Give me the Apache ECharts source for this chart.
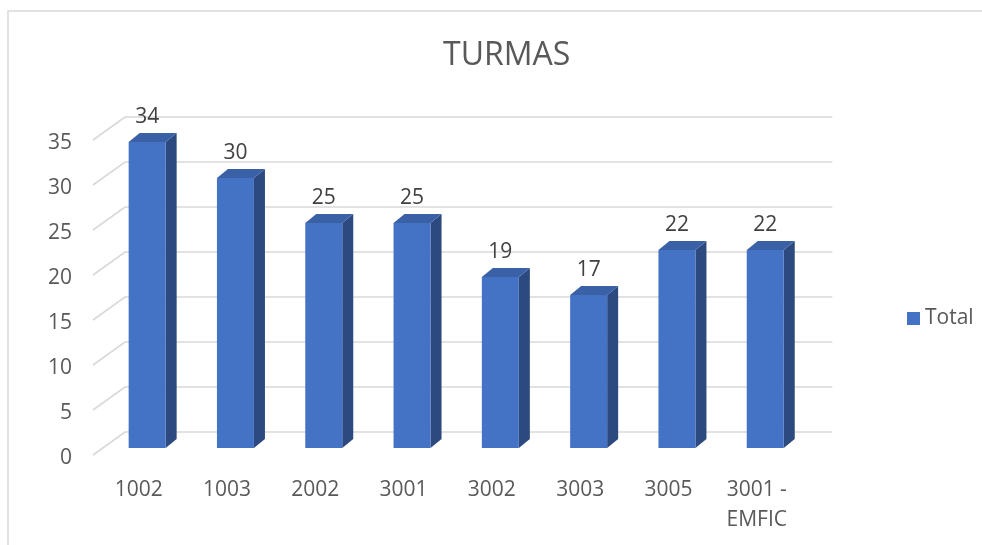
<!DOCTYPE html>
<html>
<head>
<meta charset="utf-8">
<script src="https://cdn.jsdelivr.net/npm/echarts@6/dist/echarts.min.js"></script>
<style>
html,body{margin:0;padding:0;background:#fff;}
#c{width:982px;height:545px;}
</style>
</head>
<body>
<div id="c"></div>
<script>
const categories = ['1002', '1003', '2002', '3001', '3002', '3003', '3005', '3001 - EMFIC'];
const totals = [34, 30, 25, 25, 19, 17, 22, 22];
const yTicks = [0, 5, 10, 15, 20, 25, 30, 35];
const seriesName = 'Total';
const titleText = 'TURMAS';

const FONT = "'Open Sans', 'DejaVu Sans', sans-serif";
const TXT = '#595959';
const GRID_C = '#d9d9d9';
const BAR_W = 37;
const DX = 11, DY = -9;

const chart = echarts.init(document.getElementById('c'), null, {renderer: 'canvas'});

const option = {
  animation: false,
  backgroundColor: '#ffffff',
  textStyle: {fontFamily: FONT},
  graphic: [{
    type: 'rect', z: -10, silent: true,
    shape: {x: 8, y: 11, width: 1200, height: 800},
    style: {fill: 'none', stroke: GRID_C, lineWidth: 1.5}
  }],
  title: {
    text: titleText, left: 438, top: 35,
    textStyle: {fontFamily: FONT, fontSize: 32, fontWeight: 'normal', color: TXT}
  },
  legend: {
    data: [seriesName], orient: 'vertical', left: 902, top: 303,
    icon: 'rect', itemWidth: 13, itemHeight: 13, itemGap: 5,
    textStyle: {fontFamily: FONT, fontSize: 21, color: TXT, padding: [0,0,0,0]}
  },
  grid: [
    {left: 103, top: 133, width: 706.4, bottom: 97, containLabel: false},
    {left: 94.5, top: 143, width: 706.4, bottom: 87, containLabel: false}
  ],
  xAxis: [
    {gridIndex: 0, type: 'category', data: categories, show: false},
    {gridIndex: 1, type: 'category', data: categories,
      axisLine: {show: false}, axisTick: {show: false}, splitLine: {show: false},
      axisLabel: {
        fontFamily: FONT, fontSize: 21, color: TXT, margin: 17, lineHeight: 30,
        interval: 0,
        formatter: v => v.replace(' - ', ' -\n')
      }}
  ],
  yAxis: [
    {gridIndex: 0, type: 'value', min: 0, max: 35, interval: 5, show: false},
    {gridIndex: 1, type: 'value', min: 0, max: 35, interval: 5,
      axisLine: {show: false}, axisTick: {show: false}, splitLine: {show: false},
      axisLabel: {fontFamily: FONT, fontSize: 21, color: TXT, margin: 22.5}}
  ],
  series: [
    {
      name: 'grid3d', type: 'custom', xAxisIndex: 0, yAxisIndex: 0, z: 0,
      silent: true, clip: false,
      data: yTicks.map(v => [0, v]),
      renderItem: function (params, api) {
        const cs = params.coordSys;
        const y = api.coord([0, api.value(1)])[1];
        return {
          type: 'polyline',
          shape: {points: [
            [cs.x - 10, y + 7],
            [cs.x + 22, y - 16],
            [cs.x + cs.width + 23, y - 16]
          ]},
          style: {stroke: GRID_C, lineWidth: 1.6, fill: 'none'}
        };
      }
    },
    {
      name: seriesName, type: 'bar', xAxisIndex: 0, yAxisIndex: 0, z: 3,
      data: totals, barWidth: BAR_W,
      itemStyle: {color: '#4472c4'},
      label: {show: true, position: 'top', distance: 14,
        fontFamily: FONT, fontSize: 21, color: '#404040'}
    },
    {
      name: 'faces3d', type: 'custom', xAxisIndex: 0, yAxisIndex: 0, z: 2,
      silent: true, clip: false,
      data: totals.map((v, i) => [i, v]),
      renderItem: function (params, api) {
        const top = api.coord([api.value(0), api.value(1)]);
        const base = api.coord([api.value(0), 0]);
        const l = top[0] - BAR_W / 2, r = top[0] + BAR_W / 2;
        return {
          type: 'group',
          children: [
            {type: 'polygon', shape: {points: [
              [r, top[1]], [r + DX, top[1] + DY], [r + DX, base[1] + DY], [r, base[1]]
            ]}, style: {fill: '#2c4a80'}},
            {type: 'polygon', shape: {points: [
              [l, top[1]], [l + DX, top[1] + DY], [r + DX, top[1] + DY], [r, top[1]]
            ]}, style: {fill: '#3a61a6'}}
          ]
        };
      }
    }
  ]
};
chart.setOption(option);
</script>
</body>
</html>
